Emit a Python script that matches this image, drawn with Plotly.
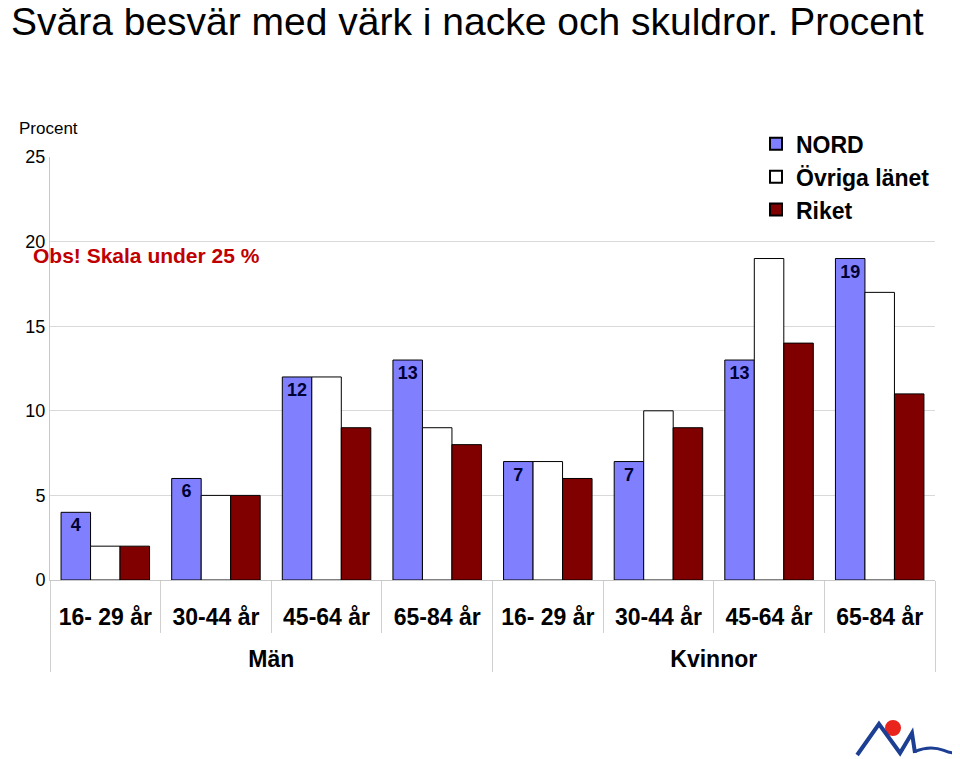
import plotly.graph_objects as go

groups = ["Män"] * 4 + ["Kvinnor"] * 4
ages = ["16- 29 år", "30-44 år", "45-64 år", "65-84 år"] * 2
nord = [4, 6, 12, 13, 7, 7, 13, 19]
ovriga = [2, 5, 12, 9, 7, 10, 19, 17]
riket = [2, 5, 9, 8, 6, 9, 14, 11]

FONT = "Liberation Sans, Arial, sans-serif"
# extra line break pushes the group label further below the age labels
x = [["<br>" + g for g in groups], ages]

fig = go.Figure()
fig.add_trace(go.Bar(
    x=x, y=nord, name="NORD", legendgroup="a",
    marker=dict(color="#8080FF", line=dict(color="black", width=1)),
    text=[str(v) for v in nord], textposition="inside", insidetextanchor="end", textangle=0,
    textfont=dict(family=FONT, size=18, color="#000033", weight="bold"),
    hoverinfo="skip",
))
fig.add_trace(go.Bar(
    x=x, y=ovriga, name="Övriga länet", legendgroup="b",
    marker=dict(color="white", line=dict(color="black", width=1)),
    hoverinfo="skip",
))
fig.add_trace(go.Bar(
    x=x, y=riket, name="Riket", legendgroup="c",
    marker=dict(color="#800000", line=dict(color="black", width=1)),
    hoverinfo="skip",
))

fig.update_layout(
    width=952, height=751,
    margin=dict(l=42, r=25, t=149, b=179),
    plot_bgcolor="white", paper_bgcolor="white",
    barmode="group", bargap=0.2, bargroupgap=0,
    font=dict(family=FONT, color="black"),
    showlegend=True,
    legend=dict(
        x=1, y=1.082, xanchor="right", yanchor="top",
        bgcolor="white", font=dict(family=FONT, size=23, color="black", weight="bold"),
        tracegroupgap=0, itemsizing="constant",
    ),
    xaxis=dict(
        type="multicategory",
        showline=True, linecolor="#c8c8c8", linewidth=1,
        ticks="outside", tickcolor="#d0d0d0", ticklen=52, tickson="boundaries",
        ticklabelstandoff=16,
        showdividers=True, dividercolor="#d0d0d0", dividerwidth=1,
        tickfont=dict(family=FONT, size=23, color="black", weight="bold"),
        showgrid=False,
    ),
    yaxis=dict(
        range=[0, 25], dtick=5, tick0=0,
        showgrid=True, gridcolor="#d9d9d9", gridwidth=1,
        showline=True, linecolor="#c8c8c8", linewidth=1,
        ticks="", tickfont=dict(family=FONT, size=18, color="black"),
        zeroline=False,
    ),
    annotations=[
        dict(text="Svåra besvär med värk i nacke och skuldror. Procent",
             xref="paper", yref="paper", x=-0.0465, y=1.3215,
             xanchor="left", yanchor="middle", showarrow=False,
             font=dict(family=FONT, size=39, color="black")),
        dict(text="Procent", xref="paper", yref="paper", x=-0.037, y=1.068,
             xanchor="left", yanchor="middle", showarrow=False,
             font=dict(family=FONT, size=17, color="black")),
        dict(text="Obs! Skala under 25 %", xref="paper", yref="paper", x=-0.021, y=0.768,
             xanchor="left", yanchor="middle", showarrow=False,
             font=dict(family=FONT, size=21, color="#C00000", weight="bold")),
    ],
    shapes=[
        dict(type="circle", xref="paper", yref="paper", x0=0.9435, x1=0.9616, y0=-0.3688, y1=-0.331,
             fillcolor="#E8241C", line=dict(width=0), layer="above"),
        dict(type="path", xref="paper", yref="paper",
             path="M 0.912 -0.4137 L 0.9367 -0.3404 L 0.9605 -0.409 L 0.974 -0.3617 L 0.9774 -0.409",
             line=dict(color="#1C3F94", width=4), layer="above"),
        dict(type="path", xref="paper", yref="paper",
             path="M 0.9774 -0.405 Q 0.995 -0.39 1.01 -0.403 T 1.03 -0.40",
             line=dict(color="#1C3F94", width=3), layer="above"),
    ],
)

fig.write_html("out.html")
